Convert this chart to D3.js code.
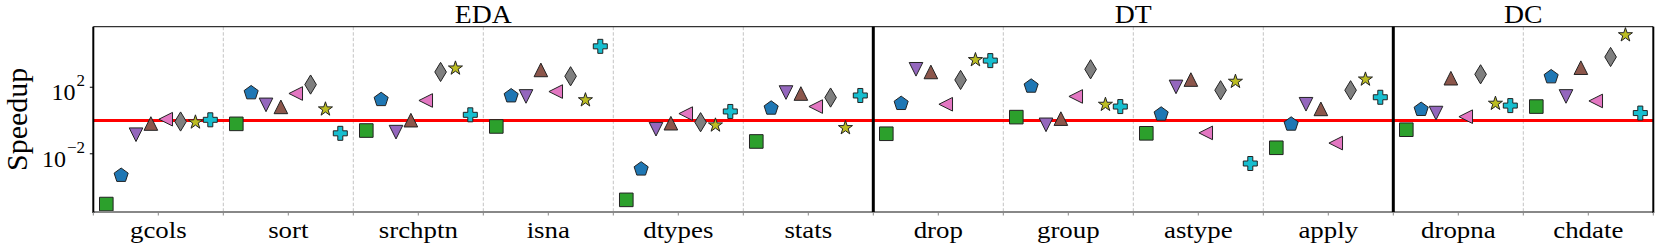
<!DOCTYPE html>
<html>
<head>
<meta charset="utf-8">
<script src="https://cdn.jsdelivr.net/npm/d3@7"></script>
<style>
  body { margin: 0; background: white; }
  text { font-family: "Liberation Serif", "Times New Roman", serif; fill: #000; }
</style>
</head>
<body>
<div id="chart"></div>
<script>
let width = 1661, height = 250;

let margin = { top: 26.7, bottom: 38, left: 93.3, right: 7.7 };

// categories and groups
let categories = ['gcols', 'sort', 'srchptn', 'isna', 'dtypes', 'stats',
                  'drop', 'group', 'astype', 'apply', 'dropna', 'chdate'];
let groups = [
  { name: 'EDA', first: 'gcols', last: 'stats' },
  { name: 'DT', first: 'drop', last: 'apply' },
  { name: 'DC', first: 'dropna', last: 'chdate' }
];

// speedup per series, one value per category
let greenSquare   = [9.5e-6, 0.63, 0.25, 0.44, 1.7e-5, 0.055, 0.16, 1.6, 0.17, 0.023, 0.28, 6.9];
let bluePentagon  = [5.0e-4, 46, 18, 30, 1.2e-3, 5.5, 10.5, 115, 2.4, 0.6, 4.6, 420];
let purpleDown    = [0.14, 8.7, 0.2, 28, 0.3, 48, 1200, 0.55, 105, 9.5, 2.8, 28];
let brownUp       = [0.66, 6.6, 1.05, 1100, 0.69, 42, 830, 1.3, 290, 5, 350, 1500];
let pinkLeft      = [1.2, 42, 16, 55, 2.6, 6.9, 9.5, 28, 0.18, 0.044, 1.7, 15];
let grayDiamond   = [0.87, 145, 830, 457, 0.79, 24, 275, 1200, 66, 66, 600, 6600];
let oliveStar     = [0.79, 4.8, 1380, 17, 0.52, 0.36, 4400, 9.1, 220, 300, 10.5, 138000];
let cyanPlus      = [1.1, 0.17, 2.2, 28800, 3.5, 32, 4000, 6.9, 2.6e-3, 25, 7.9, 2.8];

let series = [
  { values: greenSquare,  color: '#2ca02c', marker: 'square' },
  { values: bluePentagon, color: '#1f77b4', marker: 'pentagon' },
  { values: purpleDown,   color: '#9467bd', marker: 'down' },
  { values: brownUp,      color: '#8c564b', marker: 'up' },
  { values: pinkLeft,     color: '#e377c2', marker: 'left' },
  { values: grayDiamond,  color: '#7f7f7f', marker: 'diamond' },
  { values: oliveStar,    color: '#bcbd22', marker: 'star' },
  { values: cyanPlus,     color: '#17becf', marker: 'plus' }
];

let yTicks = [1e-2, 1e2];
let baseline = 1;

let svg = d3.select('#chart')
  .append('svg')
  .attr('width', width)
  .attr('height', height)
  .style('background', 'white');

let xscale = d3.scaleBand()
  .domain(categories)
  .range([margin.left, width - margin.right])
  .padding(0);

let yscale = d3.scaleLog()
  .domain([Math.pow(10, -5.5), Math.pow(10, 5.64)])
  .range([height - margin.bottom, margin.top]);

let bw = xscale.bandwidth();
let bottom = height - margin.bottom;

// marker outlines, in pixels around (0,0)
function poly(pts) {
  return 'M' + pts.map(p => p[0].toFixed(2) + ',' + p[1].toFixed(2)).join('L') + 'Z';
}
function regular(n, r, rot) {
  return d3.range(n).map(i => {
    let a = rot + i * 2 * Math.PI / n;
    return [r * Math.sin(a), -r * Math.cos(a)];
  });
}
function markerPath(type) {
  let h = 6.8;
  switch (type) {
    case 'square': return poly([[-h, -h], [h, -h], [h, h], [-h, h]]);
    case 'pentagon': return poly(regular(5, 7.4, 0));
    case 'up': return poly([[0, -h], [h, h], [-h, h]]);
    case 'down': return poly([[0, h], [h, -h], [-h, -h]]);
    case 'left': return poly([[-h, 0], [h, -h], [h, h]]);
    case 'diamond': return poly([[0, -9.6], [5.8, 0], [0, 9.6], [-5.8, 0]]);
    case 'star': {
      let pts = [];
      for (let i = 0; i < 10; i++) {
        let r = i % 2 === 0 ? 7.4 : 2.85;
        let a = i * Math.PI / 5;
        pts.push([r * Math.sin(a), -r * Math.cos(a)]);
      }
      return poly(pts);
    }
    case 'plus': {
      let o = 7, a = 2.5;
      return poly([[-a, -o], [a, -o], [a, -a], [o, -a], [o, a], [a, a], [a, o],
                   [-a, o], [-a, a], [-o, a], [-o, -a], [-a, -a]]);
    }
  }
}

// text that is a little wider than the font (as in the reference)
function wideText(g, str, x, y, size, anchor, sx) {
  return g.append('text')
    .text(str)
    .attr('transform', `translate(${x},${y}) scale(${sx},1)`)
    .attr('text-anchor', anchor)
    .style('font-size', size + 'px');
}

// dashed separators between categories
svg.append('g')
  .selectAll('line')
  .data(categories.slice(1))
  .enter()
  .append('line')
  .attr('x1', d => xscale(d))
  .attr('x2', d => xscale(d))
  .attr('y1', margin.top)
  .attr('y2', bottom)
  .attr('stroke', '#c4c4c4')
  .attr('stroke-width', 1)
  .attr('stroke-dasharray', '3.5,2');

// red line at speedup = 1
svg.append('line')
  .attr('x1', margin.left)
  .attr('x2', width - margin.right)
  .attr('y1', yscale(baseline))
  .attr('y2', yscale(baseline))
  .attr('stroke', '#ff0000')
  .attr('stroke-width', 3);

// markers
series.forEach((s, i) => {
  let off = (i - 3.5) * 0.8 / 7 * bw;
  svg.append('g')
    .selectAll('path')
    .data(s.values.map((v, j) => ({ cat: categories[j], v: v })))
    .enter()
    .append('path')
    .attr('d', markerPath(s.marker))
    .attr('transform', d => `translate(${xscale(d.cat) + bw / 2 + off},${yscale(d.v)})`)
    .attr('fill', s.color)
    .attr('stroke', '#222')
    .attr('stroke-width', 1);
});

// spines
svg.append('line')
  .attr('x1', margin.left).attr('x2', width - margin.right)
  .attr('y1', margin.top).attr('y2', margin.top)
  .attr('stroke', '#333').attr('stroke-width', 1.2);
svg.append('line')
  .attr('x1', margin.left).attr('x2', width - margin.right)
  .attr('y1', bottom).attr('y2', bottom)
  .attr('stroke', '#888').attr('stroke-width', 1.8);
svg.append('line')
  .attr('x1', margin.left).attr('x2', margin.left)
  .attr('y1', margin.top).attr('y2', bottom + 1)
  .attr('stroke', '#000').attr('stroke-width', 2);
svg.append('line')
  .attr('x1', width - margin.right).attr('x2', width - margin.right)
  .attr('y1', margin.top).attr('y2', bottom + 1)
  .attr('stroke', '#000').attr('stroke-width', 2);

// thick lines between groups
svg.append('g')
  .selectAll('line')
  .data(groups.slice(1))
  .enter()
  .append('line')
  .attr('x1', d => xscale(d.first))
  .attr('x2', d => xscale(d.first))
  .attr('y1', margin.top)
  .attr('y2', bottom)
  .attr('stroke', '#000')
  .attr('stroke-width', 3);

// x ticks at centers and edges
let xTickPos = categories.map(c => xscale(c) + bw / 2)
  .concat(categories.map(c => xscale(c)))
  .concat([width - margin.right]);
svg.append('g')
  .selectAll('line')
  .data(xTickPos)
  .enter()
  .append('line')
  .attr('x1', d => d).attr('x2', d => d)
  .attr('y1', bottom).attr('y2', bottom + 3.5)
  .attr('stroke', '#888').attr('stroke-width', 1);

// x tick labels
let xl = svg.append('g');
categories.forEach(c => {
  wideText(xl, c, xscale(c) + bw / 2, 238, 24, 'middle', 1.12);
});

// group labels
let gl = svg.append('g');
groups.forEach(g => {
  let x0 = xscale(g.first), x1 = xscale(g.last) + bw;
  wideText(gl, g.name, (x0 + x1) / 2, 23, 24.5, 'middle', 1.13);
});

// y ticks
svg.append('g')
  .selectAll('line')
  .data(yTicks)
  .enter()
  .append('line')
  .attr('x1', margin.left - 3.5).attr('x2', margin.left)
  .attr('y1', d => yscale(d)).attr('y2', d => yscale(d))
  .attr('stroke', '#000').attr('stroke-width', 1);

yTicks.forEach(t => {
  let e = Math.round(Math.log10(t));
  let txt = svg.append('text')
    .attr('x', 85)
    .attr('y', yscale(t) + 13)
    .attr('text-anchor', 'end')
    .style('font-size', '24px');
  txt.append('tspan').text('10');
  txt.append('tspan')
    .text(e < 0 ? '\u2212' + Math.abs(e) : String(e))
    .attr('dy', -14)
    .attr('dx', 1)
    .style('font-size', '17px');
});

// y axis title
svg.append('text')
  .text('Speedup')
  .attr('transform', `translate(27,${(margin.top + bottom) / 2}) rotate(-90)`)
  .attr('text-anchor', 'middle')
  .style('font-size', '30px');
</script>
</body>
</html>
